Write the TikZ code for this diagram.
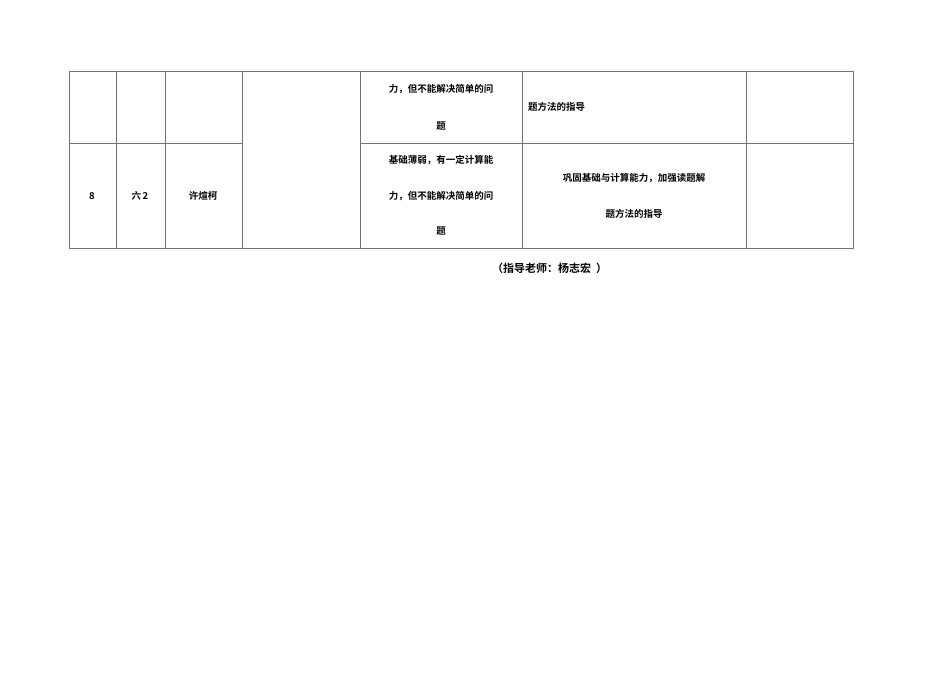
\documentclass[tikz,border=0pt]{standalone}
\usepackage{fontspec}
\newfontfamily\cjk{Noto Sans CJK SC Bold}
\begin{document}
\begin{tikzpicture}[x=1pt,y=-1pt,
  ln/.style={draw=black!55,line width=0.9pt},
  tx/.style={font=\cjk\fontsize{9.5}{11}\selectfont,inner sep=0pt}]
\useasboundingbox (0,0) rectangle (950,672);
\draw[ln] (69,71) rectangle (853,248);
\foreach \x in {116,165,242,360,522,746} \draw[ln] (\x,71) -- (\x,248);
\draw[ln] (69,143) -- (242,143);
\draw[ln] (360,143) -- (853,143);
\node[tx] (a1) at (441,89) {力，但不能解决简单的问};
\node[tx] (a2) at (441,126) {题};
\node[tx,anchor=west] (b1) at (528,107) {题方法的指导};
\node[tx] (n) at (92,196) {8};
\node[tx] (c) at (140,196) {六\,2};
\node[tx] (m) at (203,196) {许煊柯};
\node[tx] (d1) at (441,160) {基础薄弱，有一定计算能};
\node[tx] (d2) at (441,196) {力，但不能解决简单的问};
\node[tx] (d3) at (441,231) {题};
\node[tx] (e1) at (634,178) {巩固基础与计算能力，加强读题解};
\node[tx] (e2) at (634,214) {题方法的指导};
\node[tx,anchor=west,font=\cjk\fontsize{11}{13}\selectfont] (f) at (492,268) {（指导老师：杨志宏\ \ ）};
\end{tikzpicture}
\end{document}
